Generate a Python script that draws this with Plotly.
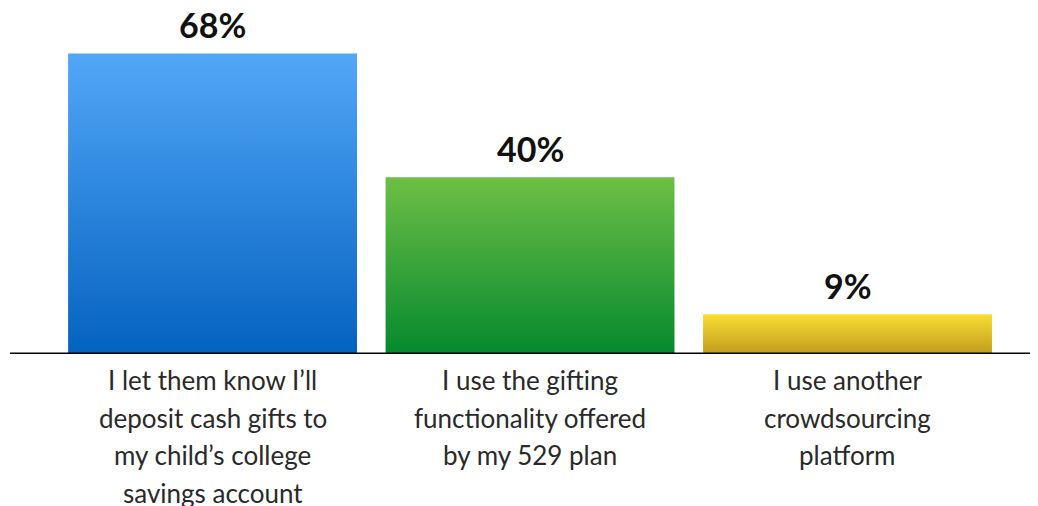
import plotly.graph_objects as go

categories = [
    "I let them know I\u2019ll<br>deposit cash gifts to<br>my child\u2019s college<br>savings account",
    "I use the gifting<br>functionality offered<br>by my 529 plan",
    "I use another<br>crowdsourcing<br>platform",
]
values = [68, 40, 9]
value_labels = ["68%", "40%", "9%"]
top_colors = ["#52A7F7", "#6DBF45", "#F8DE32"]
bottom_colors = ["#0462C0", "#05892E", "#C29C1F"]

bar_width = 0.91
fig = go.Figure()

for i, (v, ct, cb) in enumerate(zip(values, top_colors, bottom_colors)):
    x0, x1 = i - bar_width / 2, i + bar_width / 2
    fig.add_trace(go.Scatter(
        x=[x0, x1, x1, x0, x0],
        y=[0, 0, v, v, 0],
        mode="lines",
        line=dict(width=0),
        fill="toself",
        fillgradient=dict(type="vertical", start=0, stop=v,
                          colorscale=[[0, cb], [1, ct]]),
        hoverinfo="skip",
        showlegend=False,
    ))
    fig.add_annotation(
        x=i, y=v, xref="x", yref="y", text="<b>" + value_labels[i] + "</b>",
        showarrow=False, yanchor="middle", yshift=29,
        font=dict(family="Lato", size=34, color="#111111"),
    )
    for k, line in enumerate(categories[i].split("<br>")):
        fig.add_annotation(
            x=i, y=0, xref="x", yref="y", text=line,
            showarrow=False, yanchor="middle", yshift=-(26 + k * 37.5),
            font=dict(family="Lato", size=26, color="#2a2a2a"),
        )

fig.add_shape(type="line", xref="paper", x0=0, x1=1, yref="y", y0=0, y1=0,
              line=dict(color="#000000", width=3))

fig.update_layout(
    width=1030, height=498,
    margin=dict(l=2, r=0, t=0, b=152),
    paper_bgcolor="white", plot_bgcolor="white",
    xaxis=dict(range=[-0.638, 2.6], showgrid=False, zeroline=False,
               showticklabels=False, showline=False, fixedrange=True),
    yaxis=dict(range=[0, 78.3], showgrid=False, zeroline=False,
               showticklabels=False, showline=False, fixedrange=True),
    showlegend=False,
)

fig.write_html("out.html")
